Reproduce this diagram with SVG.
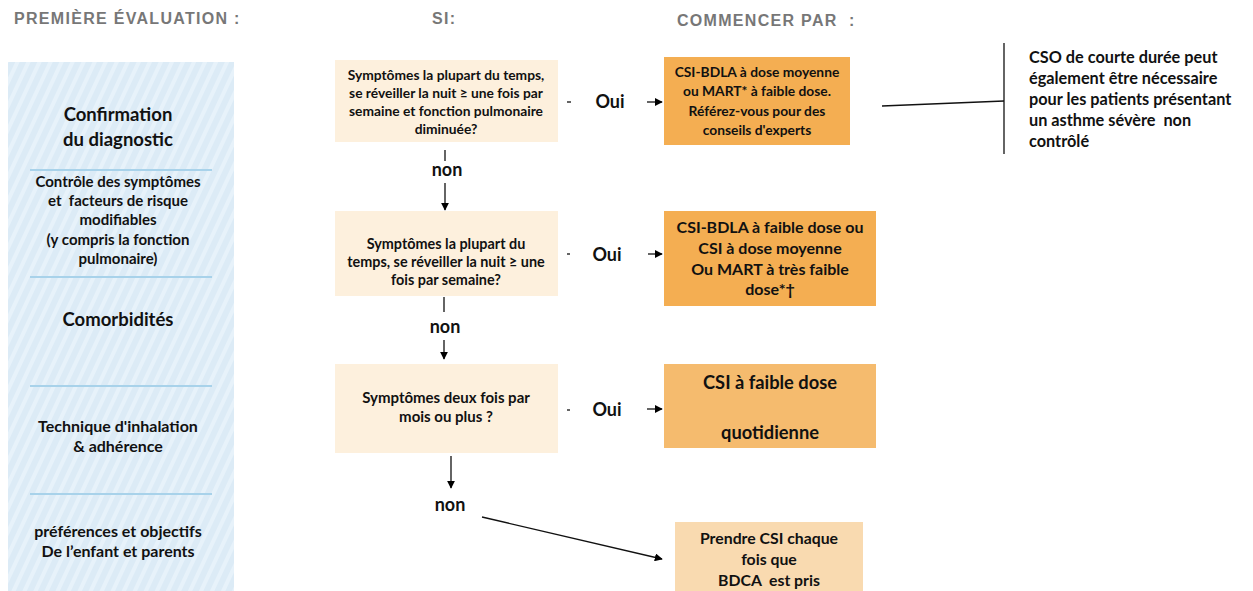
<svg xmlns="http://www.w3.org/2000/svg" width="1253" height="591" viewBox="0 0 1253 591">
  <defs>
    <pattern id="stripes" width="10" height="10" patternUnits="userSpaceOnUse" patternTransform="rotate(25)">
      <rect width="10" height="10" fill="#dcebf6"/>
      <rect width="4" height="10" fill="#e7f2fa"/>
    </pattern>
    <marker id="arrow" viewBox="0 0 10 10" refX="9" refY="5" markerWidth="8" markerHeight="8" markerUnits="userSpaceOnUse" orient="auto">
      <path d="M0,0 L10,5 L0,10 z" fill="#000"/>
    </marker>
  </defs>
  <style>
    text { white-space: pre; }
    .hdr { font-family: "Liberation Sans", Arial, sans-serif; font-weight: bold; font-size: 16px; letter-spacing: 1.3px; fill: #777; }
    .t { font-family: Lato, "Open Sans", sans-serif; font-weight: bold; fill: #111; text-anchor: middle; }
    .l { text-anchor: start; }
    .lbl { font-family: Lato, "Open Sans", sans-serif; font-weight: bold; font-size: 18px; fill: #111; text-anchor: middle; }
    .q { fill: #fdf0dd; }
    .sep { stroke: #a8d2ea; stroke-width: 2; }
    .ln { stroke: #111; stroke-width: 1.3; fill: none; }
    .arr { stroke: #111; stroke-width: 1.3; fill: none; marker-end: url(#arrow); }
  </style>

  <rect width="1253" height="591" fill="#fff"/>

  <!-- column headings -->
  <g id="headings">
    <text class="hdr" x="14" y="24">PREMIÈRE ÉVALUATION :</text>
    <text class="hdr" x="432" y="24">SI:</text>
    <text class="hdr" x="677" y="26">COMMENCER PAR  :</text>
  </g>

  <!-- assessment column -->
  <g id="assessment">
    <rect x="8" y="62" width="226" height="529" fill="url(#stripes)"/>
    <line class="sep" x1="30" y1="170" x2="212" y2="170"/>
    <line class="sep" x1="30" y1="277" x2="212" y2="277"/>
    <line class="sep" x1="30" y1="386" x2="212" y2="386"/>
    <line class="sep" x1="30" y1="494" x2="212" y2="494"/>
    <text class="t" font-size="18.5" x="118" y="121">Confirmation</text>
    <text class="t" font-size="18.5" x="118" y="146">du diagnostic</text>
    <text class="t" font-size="15" x="118" y="187">Contrôle des symptômes</text>
    <text class="t" font-size="15" x="118" y="206">et  facteurs de risque</text>
    <text class="t" font-size="15" x="118" y="225">modifiables</text>
    <text class="t" font-size="15" x="118" y="245">(y compris la fonction</text>
    <text class="t" font-size="15" x="118" y="264">pulmonaire)</text>
    <text class="t" font-size="18.5" x="118" y="326">Comorbidités</text>
    <text class="t" font-size="16" x="118" y="432">Technique d'inhalation</text>
    <text class="t" font-size="16" x="118" y="452">&amp; adhérence</text>
    <text class="t" font-size="16" x="118" y="537">préférences et objectifs</text>
    <text class="t" font-size="16" x="118" y="557">De l’enfant et parents</text>
  </g>

  <!-- questions -->
  <g id="q1">
    <rect class="q" x="335" y="60" width="223" height="82"/>
    <text class="t" font-size="13.8" x="446" y="80">Symptômes la plupart du temps,</text>
    <text class="t" font-size="13.8" x="446" y="98">se réveiller la nuit ≥ une fois par</text>
    <text class="t" font-size="13.8" x="446" y="116">semaine et fonction pulmonaire</text>
    <text class="t" font-size="13.8" x="446" y="134">diminuée?</text>
  </g>
  <g id="q2">
    <rect class="q" x="335" y="211" width="223" height="85"/>
    <text class="t" font-size="14.4" x="446" y="249">Symptômes la plupart du</text>
    <text class="t" font-size="14.4" x="446" y="267">temps, se réveiller la nuit ≥ une</text>
    <text class="t" font-size="14.4" x="446" y="285">fois par semaine?</text>
  </g>
  <g id="q3">
    <rect class="q" x="335" y="364" width="223" height="89"/>
    <text class="t" font-size="15" x="446" y="403">Symptômes deux fois par</text>
    <text class="t" font-size="15" x="446" y="422">mois ou plus ?</text>
  </g>

  <!-- treatments -->
  <g id="r1">
    <rect x="664" y="57" width="186" height="88" fill="#f4ae52"/>
    <text class="t" font-size="13.8" x="757" y="77">CSI-BDLA à dose moyenne</text>
    <text class="t" font-size="13.8" x="757" y="96">ou MART* à faible dose.</text>
    <text class="t" font-size="13.8" x="757" y="116">Référez-vous pour des</text>
    <text class="t" font-size="13.8" x="757" y="135">conseils d'experts</text>
  </g>
  <g id="r2">
    <rect x="664" y="211" width="212" height="95" fill="#f4ae52"/>
    <text class="t" font-size="16" x="770" y="233">CSI-BDLA à faible dose ou</text>
    <text class="t" font-size="16" x="770" y="254">CSI à dose moyenne</text>
    <text class="t" font-size="16" x="770" y="275">Ou MART à très faible</text>
    <text class="t" font-size="16" x="770" y="295">dose*†</text>
  </g>
  <g id="r3">
    <rect x="664" y="364" width="212" height="84" fill="#f5bb6e"/>
    <text class="t" font-size="18.3" x="770" y="389">CSI à faible dose</text>
    <text class="t" font-size="18.3" x="770" y="439">quotidienne</text>
  </g>
  <g id="r4">
    <rect x="675" y="522" width="188" height="69" fill="#f9dab0"/>
    <text class="t" font-size="15.8" x="769" y="544">Prendre CSI chaque</text>
    <text class="t" font-size="15.8" x="769" y="565">fois que</text>
    <text class="t" font-size="15.8" x="769" y="586">BDCA  est pris</text>
  </g>

  <!-- side note -->
  <g id="note">
    <text class="t l" font-size="16.3" x="1029" y="63">CSO de courte durée peut</text>
    <text class="t l" font-size="16.3" x="1029" y="84">également être nécessaire</text>
    <text class="t l" font-size="16.3" x="1029" y="105">pour les patients présentant</text>
    <text class="t l" font-size="16.3" x="1029" y="126">un asthme sévère  non</text>
    <text class="t l" font-size="16.3" x="1029" y="147">contrôlé</text>
  </g>

  <!-- connectors -->
  <g id="connectors">
    <line class="ln" x1="567" y1="102" x2="571" y2="102"/>
    <text class="lbl" x="610" y="108">Oui</text>
    <line class="arr" x1="647" y1="102" x2="662" y2="102"/>

    <line class="ln" x1="567" y1="254" x2="570" y2="254"/>
    <text class="lbl" x="607" y="261">Oui</text>
    <line class="arr" x1="648" y1="254" x2="662" y2="254"/>

    <line class="ln" x1="567" y1="410" x2="570" y2="410"/>
    <text class="lbl" x="607" y="416">Oui</text>
    <line class="arr" x1="647" y1="409" x2="662" y2="409"/>

    <line class="ln" x1="445" y1="150" x2="445" y2="161"/>
    <text class="lbl" x="447" y="176">non</text>
    <line class="arr" x1="445" y1="183" x2="445" y2="210"/>

    <line class="ln" x1="444" y1="297" x2="444" y2="312"/>
    <text class="lbl" x="445" y="333">non</text>
    <line class="arr" x1="444" y1="340" x2="444" y2="359"/>

    <line class="arr" x1="451" y1="456" x2="451" y2="488"/>
    <text class="lbl" x="450" y="511">non</text>
    <line class="arr" x1="482" y1="517" x2="662" y2="559"/>

    <line class="ln" x1="882" y1="106" x2="1004" y2="101"/>
    <line class="ln" x1="1004" y1="43" x2="1004" y2="154"/>
  </g>
</svg>
